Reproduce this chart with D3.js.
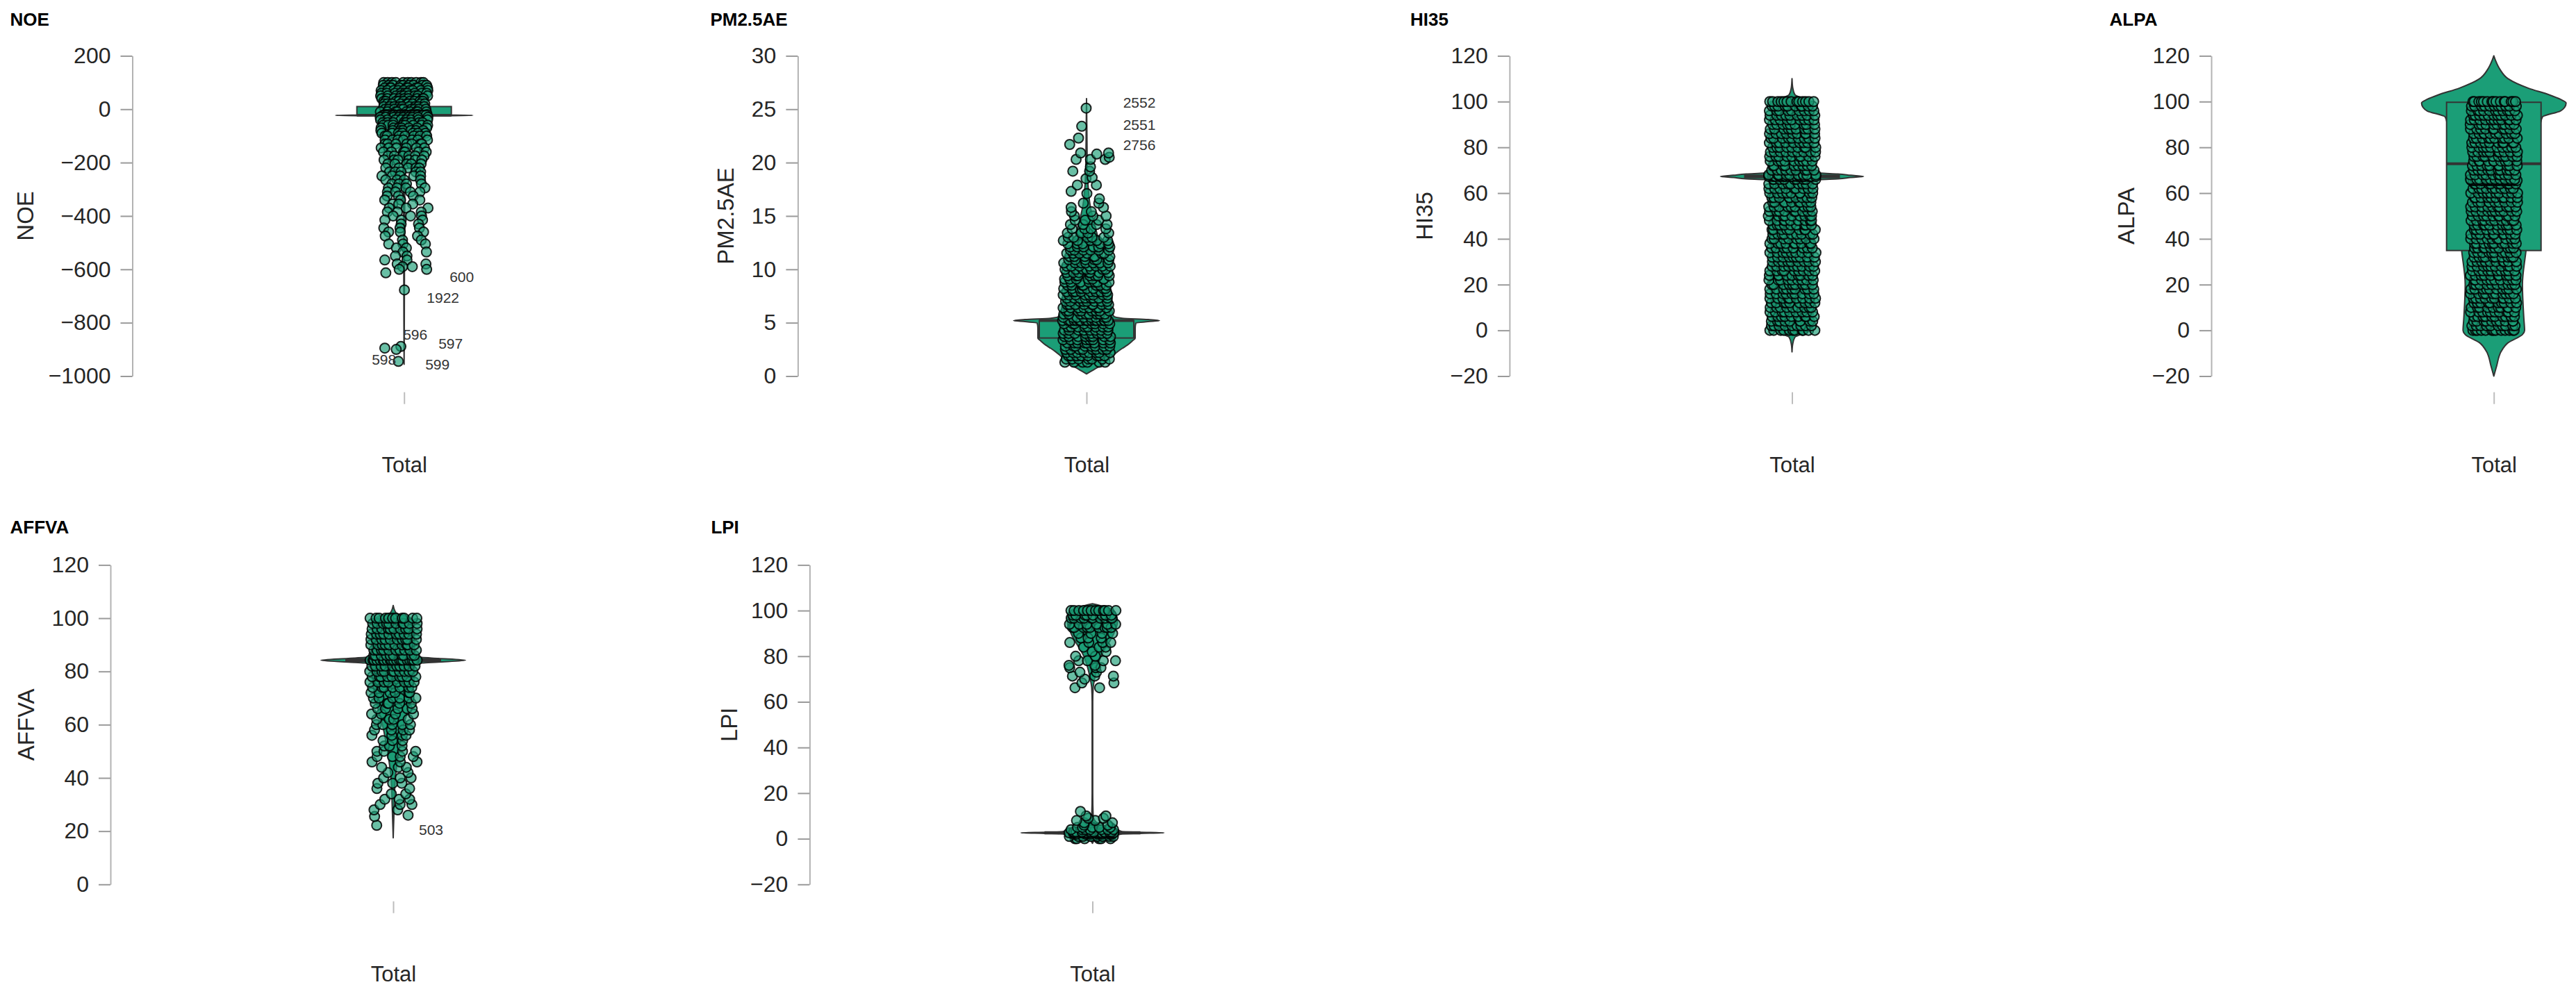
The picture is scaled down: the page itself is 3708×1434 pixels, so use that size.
<!DOCTYPE html>
<html>
<head>
<meta charset="utf-8">
<script src="https://cdn.jsdelivr.net/npm/d3@7"></script>
<style>
  html, body { margin: 0; padding: 0; background: #ffffff; }
  svg { display: block; }
</style>
</head>
<body>
<svg id="chart" width="3708" height="1434"></svg>
<script>
// ---------------- DATA ----------------
const categories = ["Total"];

// Tick values of each y axis
const noeTicks = [-1000, -800, -600, -400, -200, 0, 200];
const pmTicks = [0, 5, 10, 15, 20, 25, 30];
const hiTicks = [-20, 0, 20, 40, 60, 80, 100, 120];
const alTicks = [-20, 0, 20, 40, 60, 80, 100, 120];
const afTicks = [0, 20, 40, 60, 80, 100, 120];
const lpiTicks = [-20, 0, 20, 40, 60, 80, 100, 120];

// Observed values (frequency tables: value, number of cases)
const noeVals = [100, 90, 80, 70, 60, 50, 40, 30, 20, 10,
  0, -10, -20, -23, -30, -40, -50, -60, -70, -80,
  -90, -100, -115, -130, -145, -160, -175, -190, -205, -220,
  -235, -250, -265, -280, -295, -310, -325, -340, -355, -370,
  -385, -400, -415, -430, -445, -460, -475, -490, -505, -520,
  -535, -550, -565, -580, -590, -600, -613, -677, -889, -895,
  -900, -945];
const noeCounts = [10, 9, 9, 9, 9, 9, 9, 9, 9, 9,
  9, 9, 9, 16, 9, 8, 8, 8, 7, 7,
  7, 7, 7, 7, 6, 6, 6, 6, 5, 5,
  5, 5, 4, 4, 4, 4, 3, 3, 3, 3,
  3, 3, 3, 2, 3, 3, 2, 2, 3, 2,
  2, 2, 2, 2, 2, 2, 1, 1, 1, 1,
  1, 1];

const pmVals = [1.3, 1.6, 1.9, 2.2, 2.5, 2.8, 3.1, 3.4, 3.7, 4.0,
  4.3, 4.6, 4.9, 5.2, 5.5, 5.8, 6.1, 6.4, 6.7, 7.0,
  7.3, 7.6, 7.9, 8.2, 8.5, 8.8, 9.1, 9.4, 9.7, 10.0,
  10.3, 10.6, 10.9, 11.2, 11.5, 11.8, 12.1, 12.4, 12.7, 13.0,
  13.4, 13.8, 14.2, 14.6, 15.0, 15.4, 15.8, 16.2, 16.6,
  17.1, 17.3, 17.9, 18.5, 18.6, 19.2, 19.6, 20.3, 20.5, 20.8,
  20.9, 21.7, 22.3, 23.4, 25.1];
const pmCounts = [6, 7, 8, 8, 8, 8, 8, 8, 8, 8,
  8, 8, 8, 16, 8, 8, 8, 8, 8, 8,
  8, 8, 8, 8, 7, 7, 7, 7, 7, 7,
  7, 7, 6, 6, 6, 6, 6, 5, 5, 5,
  4, 4, 4, 3, 3, 2, 2, 2, 1,
  1, 1, 2, 1, 1, 2, 1, 3, 1, 1,
  2, 1, 1, 1, 1];

const hiVals = [0, 2, 4, 6, 8, 10, 12, 14, 16, 18,
  20, 22, 24, 26, 28, 30, 32, 34, 36, 38,
  40, 42, 44, 46, 48, 50, 52, 54, 56, 58,
  60, 62, 64, 66, 67.3,
  68, 70, 72, 74, 76, 78, 80, 82, 84, 86,
  88, 90, 92, 94, 96, 98, 100];
const hiCounts = [11, 9, 9, 9, 9, 9, 9, 9, 9, 9,
  9, 9, 9, 9, 9, 9, 9, 9, 8, 9,
  8, 9, 9, 9, 9, 9, 9, 9, 9, 9,
  9, 9, 9, 9, 20,
  9, 9, 9, 9, 9, 9, 9, 9, 9, 9,
  9, 9, 9, 9, 9, 10, 13];

const alVals = [0, 2, 4, 6, 8, 10, 12, 14, 16, 18,
  20, 22, 24, 26, 28, 30, 32, 34, 36, 38,
  40, 42, 44, 46, 48, 50, 52, 54, 56, 58,
  60, 62, 64, 65.5,
  66, 68, 70, 72, 74, 76, 78, 80, 82, 84,
  86, 88, 90, 92, 94, 96, 98, 100];
const alCounts = [13, 10, 10, 10, 10, 10, 10, 10, 10, 10,
  10, 10, 10, 10, 10, 10, 10, 10, 10, 10,
  10, 10, 10, 10, 10, 10, 10, 10, 10, 10,
  10, 10, 10, 20,
  10, 10, 10, 10, 10, 10, 10, 10, 10, 10,
  10, 10, 10, 11, 11, 11, 11, 15];

const afVals = [22.2, 25.5, 26, 28, 30, 32, 34, 36, 38, 40,
  42, 44, 46, 48, 50, 52, 54, 56, 58, 60,
  62, 64, 66, 68, 70, 72, 74, 76, 78, 80,
  82, 84.2, 86, 88, 90, 92, 94, 96, 98, 100];
const afCounts = [1, 1, 1, 2, 3, 3, 2, 2, 3, 3,
  2, 3, 3, 4, 4, 3, 3, 4, 4, 5,
  4, 4, 5, 5, 6, 6, 7, 8, 9, 10,
  10, 20, 10, 10, 10, 10, 10, 10, 10, 11];

const lpiVals = [0, 1, 2, 2.6, 3, 4, 5, 6, 7, 8,
  9, 10, 12, 66.2, 68.3, 70, 71.3, 73, 75, 76,
  78, 80, 82, 84, 86, 88, 90, 92.6, 94, 96.7,
  98, 100];
const lpiCounts = [6, 8, 8, 16, 8, 7, 5, 2, 2, 2,
  2, 2, 1, 2, 2, 1, 3, 2, 3, 2,
  4, 2, 2, 3, 4, 3, 4, 9, 6, 10,
  8, 12];

// Violin outlines (value, relative density width)
const noeViolinV = [-956, -800, -600, -400, -200, -100, -40, -30, -26, -24.5, -23, -21.5, -20, -16, -5, 20, 60, 105];
const noeViolinD = [0, 0.003, 0.005, 0.008, 0.012, 0.015, 0.02, 0.03, 0.2, 0.55, 0.96, 0.55, 0.2, 0.03, 0.03, 0.02, 0.01, 0];
const pmViolinV = [0.2, 0.6, 1.0, 1.5, 2.0, 2.27, 2.6, 2.9, 3.3, 3.57, 4.0, 4.5, 4.98, 5.1, 5.2, 5.3, 5.42, 5.6, 6.0, 7.0, 8.0, 10.0, 12.0, 14.0, 16.0, 18.0, 20.0, 23.0, 26.0];
const pmViolinD = [0, 0.1, 0.2, 0.3, 0.38, 0.43, 0.5, 0.57, 0.64, 0.68, 0.68, 0.68, 0.69, 0.86, 1.02, 0.86, 0.5, 0.38, 0.36, 0.33, 0.3, 0.26, 0.2, 0.12, 0.05, 0.02, 0.01, 0.005, 0];
const hiViolinV = [-9.4, -6, -3, 0, 10, 30, 50, 60, 65.5, 65.9, 66.24, 66.8, 67.3, 67.8, 68.36, 68.7, 69.1, 75, 90, 100, 103, 106, 110];
const hiViolinD = [0, 0.01, 0.04, 0.25, 0.3, 0.3, 0.3, 0.3, 0.3, 0.4, 0.64, 0.82, 1.0, 0.82, 0.64, 0.4, 0.3, 0.3, 0.3, 0.25, 0.04, 0.01, 0];
const alViolinV = [-20, -15.5, -9.4, -5.4, -1.8, 0, 5, 20, 35, 50, 65, 80, 90, 93.3, 95.9, 97.5, 99.4, 101, 102.9, 105.9, 110, 114, 118.1, 120];
const alViolinD = [0, 0.04, 0.1, 0.2, 0.4, 0.43, 0.42, 0.4, 0.45, 0.5, 0.58, 0.62, 0.65, 0.68, 0.93, 0.99, 1.01, 0.93, 0.78, 0.48, 0.2, 0.087, 0.022, 0];
const afViolinV = [17.5, 22, 26, 30, 35, 40, 50, 60, 70, 80, 82.8, 83.15, 83.5, 84.2, 84.9, 85.25, 85.6, 90, 100, 102, 104.8];
const afViolinD = [0, 0.005, 0.01, 0.015, 0.02, 0.03, 0.08, 0.15, 0.25, 0.3, 0.3, 0.4, 0.63, 1.01, 0.63, 0.4, 0.3, 0.3, 0.25, 0.04, 0];
const lpiViolinV = [-2, -1, 0, 1.5, 2.15, 2.35, 2.6, 2.85, 3.05, 4, 6, 10, 20, 40, 60, 66, 70, 80, 90, 95, 100, 103];
const lpiViolinD = [0, 0.02, 0.3, 0.35, 0.42, 0.66, 1.0, 0.66, 0.42, 0.35, 0.1, 0.01, 0.004, 0.004, 0.004, 0.01, 0.03, 0.12, 0.3, 0.35, 0.3, 0];

// Box summaries: [q1, median, q3]
const noeBox = [-23, -23, 10];
const pmBox = [3.57, 5.2, 5.2];
const hiBox = [66.8, 67.3, 67.8];
const alBox = [34.9, 72.8, 99.7];
const afBox = [83.8, 84.2, 84.6];
const lpiBox = [2.2, 2.6, 3.0];

// Case-number labels of outliers
const noeLabels = ["600", "1922", "596", "597", "598", "599"];
const pmLabels = ["2552", "2551", "2756"];
const afLabels = ["503"];
const lpiLabels = [];
const hiLabels = [];
const alLabels = [];

// ---------------- LAYOUT ----------------
const FONT = '"Liberation Sans", Arial, Helvetica, sans-serif';
const GREEN = "#1b9e77";
const VIOLIN_W = 103;   // half width of a density of 1
const BOX_W = 68;       // half width of the box
const JITTER_W = 34.5;  // half width of the jitter
const PT_R = 7.0;

// deterministic hash in [0, 1) used only for horizontal jitter placement
function hash01(i, seed) {
  const s = Math.sin((i + 1) * 12.9898 + seed * 78.233) * 43758.5453;
  return s - Math.floor(s);
}

const rows = [
  { top: 80.4, bottom: 541.5, titleY: 37, xTickY: 564.7 },
  { top: 813.4, bottom: 1273.3, titleY: 768, xTickY: 1297.7 }
];

const panels = [
  { title: "NOE", vals: noeVals, counts: noeCounts, vV: noeViolinV, vD: noeViolinD, box: noeBox, ticks: noeTicks, labels: noeLabels,
    lay: { row: 0, axisX: 190.5, cx: 581.7, titleX: 14.5, yTitleX: 36.4, seed: 1,
           labelPos: [[83, -628], [56, -706], [16, -845], [67, -878], [-29, -939], [48, -956]] } },
  { title: "PM2.5AE", vals: pmVals, counts: pmCounts, vV: pmViolinV, vD: pmViolinD, box: pmBox, ticks: pmTicks, labels: pmLabels,
    lay: { row: 0, axisX: 1148.4, cx: 1564, titleX: 1022.4, yTitleX: 1044.2, seed: 9,
           labelPos: [[76, 25.65], [76, 23.57], [76, 21.68]] } },
  { title: "HI35", vals: hiVals, counts: hiCounts, vV: hiViolinV, vD: hiViolinD, box: hiBox, ticks: hiTicks, labels: hiLabels,
    lay: { row: 0, axisX: 2172.9, cx: 2579.5, titleX: 2030, yTitleX: 2050.5, seed: 3, labelPos: [] } },
  { title: "ALPA", vals: alVals, counts: alCounts, vV: alViolinV, vD: alViolinD, box: alBox, ticks: alTicks, labels: alLabels,
    lay: { row: 0, axisX: 3183, cx: 3589.7, titleX: 3036.6, yTitleX: 3060.3, seed: 4, labelPos: [] } },
  { title: "AFFVA", vals: afVals, counts: afCounts, vV: afViolinV, vD: afViolinD, box: afBox, ticks: afTicks, labels: afLabels,
    lay: { row: 1, axisX: 159, cx: 566, titleX: 14.5, yTitleX: 37.8, seed: 5, labelPos: [[54.5, 20.4]] } },
  { title: "LPI", vals: lpiVals, counts: lpiCounts, vV: lpiViolinV, vD: lpiViolinD, box: lpiBox, ticks: lpiTicks, labels: lpiLabels,
    lay: { row: 1, axisX: 1165.4, cx: 1572.5, titleX: 1023.4, yTitleX: 1049, seed: 6, labelPos: [] } }
];

// ---------------- DRAW ----------------
const svg = d3.select("#chart");
svg.append("rect").attr("width", 3708).attr("height", 1434).attr("fill", "#ffffff");

panels.forEach(p => {
  const r = rows[p.lay.row];
  const g = svg.append("g").attr("class", "panel");

  const y = d3.scaleLinear()
    .domain([p.ticks[0], p.ticks[p.ticks.length - 1]])
    .range([r.bottom, r.top]);
  const x = d3.scalePoint().domain(categories)
    .range([p.lay.cx - 100, p.lay.cx + 100]).padding(0.5);
  const cx = x("Total");

  // panel title
  svg.append("text")
    .attr("x", p.lay.titleX).attr("y", r.titleY)
    .attr("font-family", FONT).attr("font-size", 26).attr("font-weight", "bold")
    .attr("fill", "#000").text(p.title);

  // y axis
  const ax = g.append("g").attr("transform", `translate(${p.lay.axisX},0)`)
    .call(d3.axisLeft(y).tickValues(p.ticks).tickSize(17).tickSizeOuter(0)
      .tickPadding(14).tickFormat(d3.format("d")));
  ax.select(".domain").attr("stroke", "#b3b3b3").attr("stroke-width", 2);
  ax.selectAll(".tick line").attr("stroke", "#9a9a9a").attr("stroke-width", 2);
  ax.selectAll(".tick text").attr("font-size", 32).attr("font-family", FONT).attr("fill", "#262626");

  // y axis title
  g.append("text")
    .attr("transform", `translate(${p.lay.yTitleX},${(r.top + r.bottom) / 2}) rotate(-90)`)
    .attr("text-anchor", "middle").attr("dy", "0.35em")
    .attr("font-family", FONT).attr("font-size", 33).attr("fill", "#262626")
    .text(p.title);

  // x axis
  const xa = g.append("g").attr("transform", `translate(0,${r.xTickY})`)
    .call(d3.axisBottom(x).tickSize(17).tickPadding(76));
  xa.select(".domain").remove();
  xa.selectAll(".tick line").attr("stroke", "#bdbdbd").attr("stroke-width", 2);
  xa.selectAll(".tick text").attr("font-size", 31).attr("font-family", FONT).attr("fill", "#262626");

  // violin
  const vdata = p.vV.map((v, i) => ({ v: v, d: p.vD[i] }));
  const area = d3.area()
    .y(d => y(d.v))
    .x0(d => cx - d.d * VIOLIN_W)
    .x1(d => cx + d.d * VIOLIN_W)
    .curve(d3.curveMonotoneY);
  g.append("path").datum(vdata).attr("d", area)
    .attr("fill", GREEN).attr("stroke", "#333").attr("stroke-width", 2)
    .attr("stroke-linejoin", "round");

  // box
  const [q1, med, q3] = p.box;
  g.append("rect")
    .attr("x", cx - BOX_W).attr("width", 2 * BOX_W)
    .attr("y", y(q3)).attr("height", Math.max(0.5, y(q1) - y(q3)))
    .attr("fill", GREEN).attr("stroke", "#333").attr("stroke-width", 2);
  g.append("line")
    .attr("x1", cx - BOX_W).attr("x2", cx + BOX_W)
    .attr("y1", y(med)).attr("y2", y(med))
    .attr("stroke", "#333").attr("stroke-width", 4);

  // jittered points (stratified horizontal jitter within each value)
  const pts = [];
  let idx = 0;
  p.vals.forEach((v, i) => {
    const n = p.counts[i];
    for (let k = 0; k < n; k++) {
      const u = hash01(idx++, p.lay.seed);
      pts.push({ v: v, j: ((k + u) / n) * 2 - 1 });
    }
  });
  g.append("g").selectAll("circle").data(pts).join("circle")
    .attr("cx", d => cx + d.j * JITTER_W)
    .attr("cy", d => y(d.v))
    .attr("r", PT_R)
    .attr("fill", GREEN).attr("fill-opacity", 0.66)
    .attr("stroke", "#000").attr("stroke-opacity", 0.85).attr("stroke-width", 2);

  // outlier labels
  g.selectAll("text.lab").data(p.labels).join("text")
    .attr("class", "lab")
    .attr("x", (d, i) => cx + p.lay.labelPos[i][0])
    .attr("y", (d, i) => y(p.lay.labelPos[i][1]))
    .attr("dy", "0.35em").attr("text-anchor", "middle")
    .attr("font-family", FONT).attr("font-size", 21).attr("fill", "#333")
    .text(d => d);
});
</script>
</body>
</html>
